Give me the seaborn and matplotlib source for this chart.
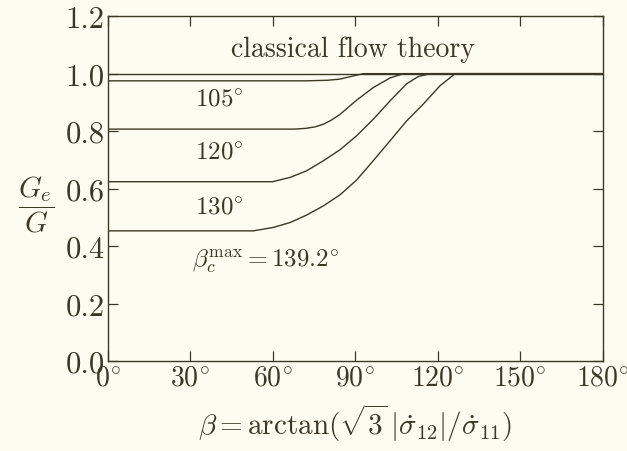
import matplotlib
matplotlib.use("Agg")
import matplotlib.pyplot as plt
import seaborn as sns
import pandas as pd

# Effective shear modulus ratio G_e/G versus loading angle beta (degrees)
beta_classical = [0, 180]
g_classical = [1.0, 1.0]

beta_105 = [0, 72, 80, 84.5, 88, 93, 180]
g_105 = [0.975, 0.975, 0.977, 0.981, 0.989, 1.0, 1.0]

beta_120 = [0, 68, 72.4, 75.5, 78.5, 81.5, 84.5, 90.6, 96.7, 102.7, 107.6, 180]
g_120 = [0.807, 0.807, 0.81, 0.815, 0.824, 0.839, 0.858, 0.908, 0.952, 0.985, 1.0, 1.0]

beta_130 = [0, 60, 66.4, 72.4, 78.5, 84.5, 90.6, 96.7, 102.7, 108.8, 113, 117.3, 180]
g_130 = [0.624, 0.624, 0.639, 0.662, 0.697, 0.735, 0.784, 0.842, 0.905, 0.965, 0.99, 1.0, 1.0]

beta_139 = [0, 53, 60.3, 66.4, 72.4, 78.5, 84.5, 90.6, 96.7, 102.7, 108.8, 114.8, 120.9, 126.4, 180]
g_139 = [0.453, 0.453, 0.465, 0.482, 0.508, 0.54, 0.578, 0.63, 0.698, 0.766, 0.836, 0.894, 0.958, 1.0, 1.0]

x_ticks = [0, 30, 60, 90, 120, 150, 180]
y_ticks = [0.0, 0.2, 0.4, 0.6, 0.8, 1.0, 1.2]

curve_labels = ["classical", "105", "120", "130", "139.2"]
curves = [(beta_classical, g_classical), (beta_105, g_105), (beta_120, g_120),
          (beta_130, g_130), (beta_139, g_139)]

frames = []
for name, (b, g) in zip(curve_labels, curves):
    frames.append(pd.DataFrame({"beta": b, "ratio": g, "curve": name}))
df = pd.concat(frames, ignore_index=True)

sns.set_style("ticks")
plt.rcParams["font.family"] = ["cmr10"]
plt.rcParams["mathtext.fontset"] = "cm"
plt.rcParams["axes.unicode_minus"] = False
plt.rcParams["axes.formatter.use_mathtext"] = True

ink = "#3b3826"
paper = "#fdfcf1"

fig = plt.figure(figsize=(6.27, 4.52), dpi=100, facecolor=paper)
ax = fig.add_axes([0.1715, 0.199, 0.7895, 0.763])
ax.set_facecolor(paper)

for name in curve_labels:
    sub = df[df["curve"] == name]
    sns.lineplot(data=sub, x="beta", y="ratio", ax=ax, color=ink, lw=1.0,
                 sort=False, estimator=None)

ax.set_xlim(0, 180)
ax.set_ylim(0, 1.2)
ax.set_xticks(x_ticks)
ax.set_xticklabels([rf"${t}^{{\circ}}$" for t in x_ticks])
ax.set_yticks(y_ticks)
ax.set_yticklabels([f"{t:.1f}" for t in y_ticks])
ax.tick_params(direction="in", length=7, width=0.9, colors=ink,
               top=True, right=True, pad=2)
ax.tick_params(axis="x", labeltop=False, labelsize=20)
ax.tick_params(axis="y", labelsize=22)
for s in ax.spines.values():
    s.set_color(ink)
    s.set_linewidth(1.0)

ax.set_xlabel(r"$\beta = \arctan(\sqrt{3}\,|\dot{\sigma}_{12}|/\dot{\sigma}_{11})$",
              fontsize=21, color=ink, labelpad=8)
ax.set_ylabel(r"$\dfrac{G_e}{G}$", fontsize=21, color=ink, rotation=0,
              va="center", ha="center")
ax.yaxis.set_label_coords(-0.145, 0.455)

ax.text(89.3, 1.085, "classical flow theory", fontsize=20, color=ink,
        ha="center", va="center")
ax.text(40.5, 0.911, r"$105^{\circ}$", fontsize=18, color=ink, ha="center", va="center")
ax.text(40.5, 0.727, r"$120^{\circ}$", fontsize=18, color=ink, ha="center", va="center")
ax.text(40.5, 0.536, r"$130^{\circ}$", fontsize=18, color=ink, ha="center", va="center")
ax.text(30.7, 0.348, r"$\beta_c^{\mathrm{max}} = 139.2^{\circ}$", fontsize=18,
        color=ink, ha="left", va="center")

fig.savefig("out.png", dpi=100, facecolor=paper)
